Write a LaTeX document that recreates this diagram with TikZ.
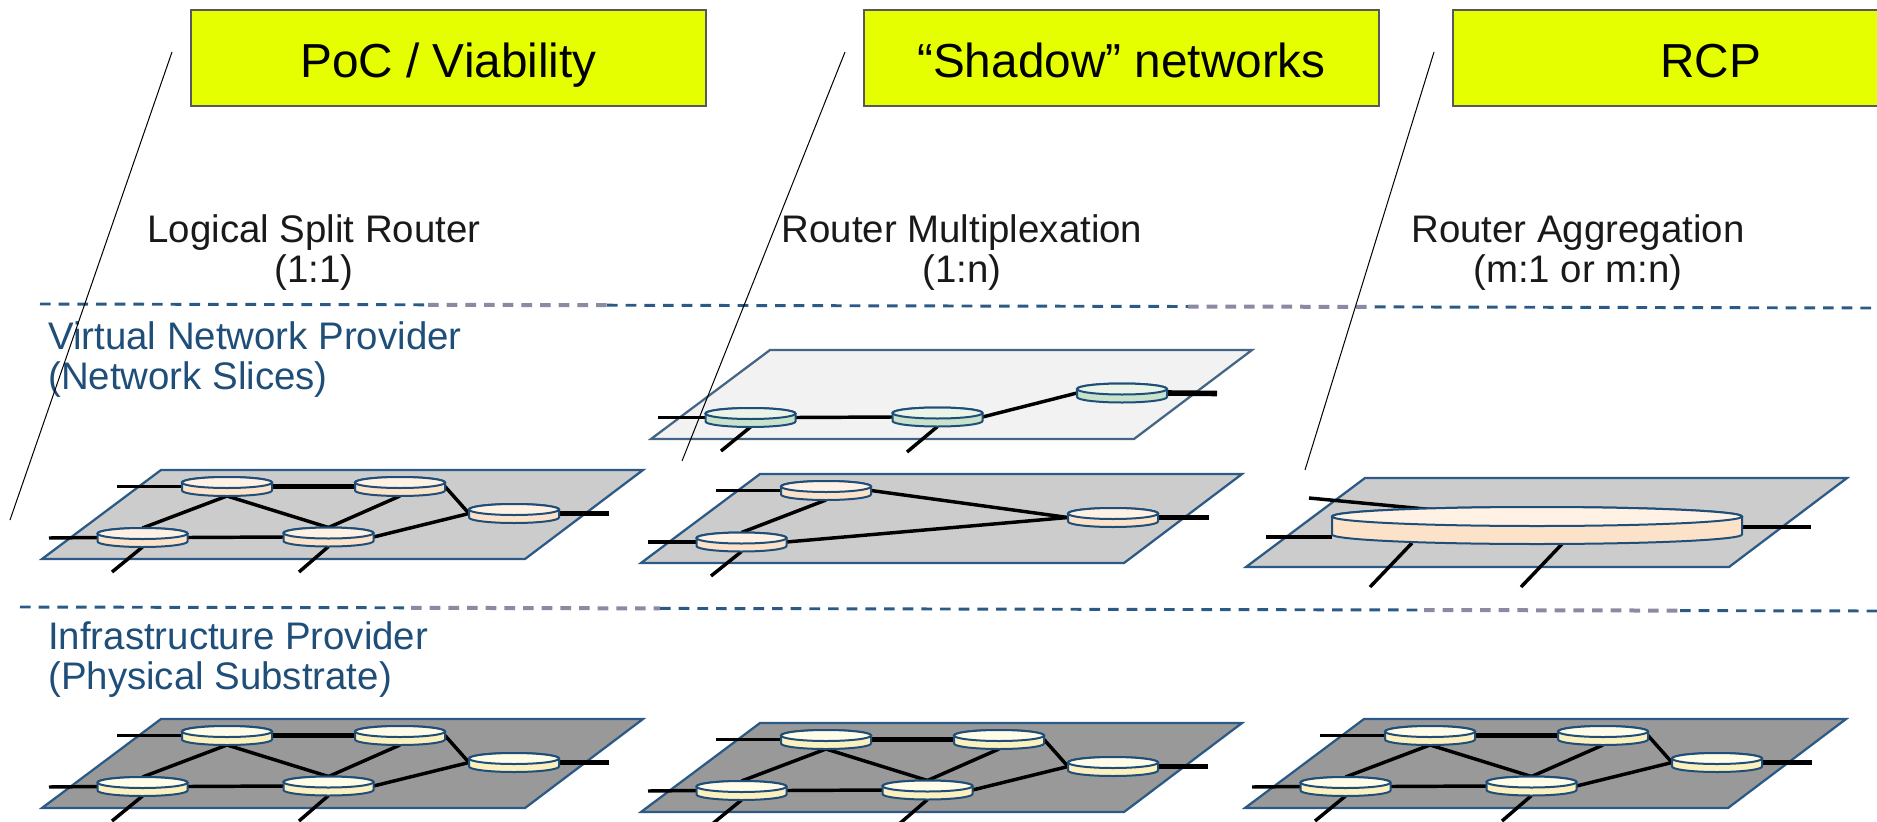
\documentclass[tikz,border=0pt]{standalone}
\usepackage{fontspec}
\setmainfont{Liberation Sans}
\usetikzlibrary{calc}
\pgfdeclarelayer{plates}
\pgfdeclarelayer{links}
\pgfsetlayers{plates,links,main}
\definecolor{edgeblue}{HTML}{2A5A85}
\definecolor{rimblue}{HTML}{1F4E79}
\definecolor{dashgrey}{HTML}{8A8AA2}
\definecolor{labelblue}{HTML}{1F4E79}
\definecolor{lime}{HTML}{E6FF00}
\definecolor{peachtop}{HTML}{FFF2E4}
\definecolor{peachside}{HTML}{FDE2CA}
\definecolor{creamtop}{HTML}{FFFCE8}
\definecolor{creamside}{HTML}{FCF0BE}
\definecolor{greentop}{HTML}{EAF4E8}
\definecolor{greenside}{HTML}{C8E2CC}
\tikzset{
  x=0.75pt, y=-0.75pt,
  banner/.style={draw=black!65, line width=1.1pt, fill=lime, minimum height=72pt, inner sep=0pt,
    text height=35.5pt, text depth=7pt,
    font=\fontsize{35.8}{40}\selectfont, text=black},
  heading/.style={align=center, inner sep=0pt, text=black!90, font=\fontsize{28.8}{30}\selectfont},
  rolelabel/.style={align=left, inner sep=0pt, text=labelblue, anchor=west, font=\fontsize{28.8}{30}\selectfont},
  plate/.style={draw=edgeblue, line width=1.7pt, line join=miter},
  routerbox/.style={rectangle, inner sep=0pt, outer sep=0pt},
  rim/.style={draw=rimblue, line width=1.5pt},
  link/.style={black, line width=2.6pt},
  fatlink/.style={black, line width=4.2pt},
  tilt/.style={black, line width=0.75pt},
  bluedash/.style={draw=edgeblue, line width=2.2pt, dash pattern=on 8pt off 6pt},
  greydash/.style={draw=dashgrey, line width=3pt, dash pattern=on 8pt off 6pt},
}
% name, cx, cy, rx, ry, half side height, colour stem
\newcommand\router[7]{%
  \node[routerbox, minimum width={2*#4*0.75pt}, minimum height={(2*#6+2*#5)*0.75pt}] (#1) at (#2,#3) {};
  \draw[rim, fill=#7side] ({#2-#4},{#3-#6}) -- ({#2-#4},{#3+#6})
     arc[start angle=180, end angle=0, x radius=#4, y radius=#5]
     -- ({#2+#4},{#3-#6})
     arc[start angle=0, end angle=-180, x radius=#4, y radius=#5] -- cycle;
  \draw[rim, fill=#7top] (#2,{#3-#6}) ellipse[x radius=#4, y radius=#5];
}
\newcommand\smallrouter[4]{\router{#1}{#2}{#3}{45}{5.5}{4}{#4}}
% plate whose upper left corner is at (ox,oy)
\newcommand\plateshape[4][edgeblue]{%
  \begin{pgfonlayer}{plates}
    \draw[plate, draw=#1, fill=#4] (#2,#3) -- ({#2+482},#3) -- ({#2+364},{#3+89}) -- ({#2-119},{#3+89}) -- cycle;
  \end{pgfonlayer}%
}
% five router network; prefix, dx, dy, plate fill, router colour
\newcommand\fivenet[5]{%
  \begin{scope}[shift={(#2,#3)}]
    \plateshape{161}{470}{#4}
    \smallrouter{#1a}{227}{486.5}{#5}
    \smallrouter{#1b}{400}{486.5}{#5}
    \smallrouter{#1c}{514}{513.5}{#5}
    \smallrouter{#1d}{142.5}{537.5}{#5}
    \smallrouter{#1e}{328.5}{537}{#5}
    \coordinate (#1sa) at (117,486.5);
    \coordinate (#1sd) at (49,538);
    \coordinate (#1sc) at (609,513.5);
    \coordinate (#1dd) at (112,572);
    \coordinate (#1de) at (299,572);
    \begin{pgfonlayer}{links}
      \draw[link] (#1sa) -- (#1a.west);
      \draw[fatlink] (#1a.east) -- (#1b.west);
      \draw[link] (#1a.south) -- (#1d.north);
      \draw[link] (#1a.south) -- (#1e.north);
      \draw[link] (#1b.south) -- (#1e.north);
      \draw[link] (#1b.east) -- (#1c.west);
      \draw[link] (#1e.east) -- (#1c.west);
      \draw[link] (#1d.east) -- (#1e.west);
      \draw[link] (#1sd) -- (#1d.west);
      \draw[link] (#1d.south) -- (#1dd);
      \draw[link] (#1e.south) -- (#1de);
      \draw[fatlink] (#1c.east) -- (#1sc);
    \end{pgfonlayer}
  \end{scope}%
}
\begin{document}
\begin{tikzpicture}
\useasboundingbox (0,0) rectangle (1877,821);

% dashed separators
\draw[bluedash] (40,304) -- (428,304.8);
\draw[greydash] (428,304.8) -- (607,305.2);
\draw[bluedash] (607,305.2) -- (1188,306.5);
\draw[greydash] (1188,306.5) -- (1375,306.9);
\draw[bluedash] (1375,306.9) -- (1877,308);
\draw[bluedash] (20,607) -- (411,607.8);
\draw[greydash] (411,607.8) -- (660,608.4);
\draw[bluedash] (660,608.4) -- (1424,610);
\draw[greydash] (1424,610) -- (1680,610.6);
\draw[bluedash] (1680,610.6) -- (1877,611);

% banners
\node[banner, minimum width=386.25pt] (b1) at (448.5,58) {PoC / Viability};
\node[banner, minimum width=386.25pt] (b2) at (1121.5,58) {“Shadow” networks};
\node[banner, minimum width=386.25pt] (b3) at (1710.5,58) {RCP};

% headings
\node[heading] (h1) at (314,253) {Logical Split Router\\(1:1)};
\node[heading] (h2) at (962,253) {Router Multiplexation\\(1:n)};
\node[heading] (h3) at (1578,253) {Router Aggregation\\(m:1 or m:n)};

% role labels
\node[rolelabel] (r1) at (48,360) {Virtual Network Provider\\(Network Slices)};
\node[rolelabel] (r2) at (48,660) {Infrastructure Provider\\(Physical Substrate)};

% row: virtual network, first column
\fivenet{p}{0}{0}{black!20}{peach}
% row: physical substrate
\fivenet{q}{0}{249}{black!40}{cream}
\fivenet{s}{599}{253}{black!40}{cream}
\fivenet{t}{1203}{249}{black!40}{cream}

% second column, slice on top
\plateshape[edgeblue!70!gray]{770}{350}{black!5}
\smallrouter{va}{750.5}{417.5}{green}
\smallrouter{vb}{937.5}{417}{green}
\smallrouter{vc}{1122}{393}{green}
\coordinate (vsa) at (658,417.5);
\coordinate (vsc) at (1217,393.5);
\coordinate (vda) at (721,451);
\coordinate (vdb) at (907,452);
\begin{pgfonlayer}{links}
  \draw[link] (vsa) -- (va.west);
  \draw[link] (va.east) -- (vb.west);
  \draw[link] (vb.east) -- (vc.west);
  \draw[fatlink] (vc.east) -- (vsc);
  \draw[link] (va.south) -- (vda);
  \draw[link] (vb.south) -- (vdb);
\end{pgfonlayer}

% second column, lower plate
\plateshape{760}{474}{black!20}
\smallrouter{ma}{826}{490.5}{peach}
\smallrouter{mc}{1113}{517.5}{peach}
\smallrouter{md}{741.5}{542}{peach}
\coordinate (msa) at (716,490.5);
\coordinate (msd) at (648,542);
\coordinate (msc) at (1209,517.5);
\coordinate (mdd) at (711,576);
\begin{pgfonlayer}{links}
  \draw[link] (msa) -- (ma.west);
  \draw[link] (msd) -- (md.west);
  \draw[fatlink] (mc.east) -- (msc);
  \draw[link] (ma.south) -- (md.north);
  \draw[link] (ma.east) -- (mc.west);
  \draw[link] (md.east) -- (mc.west);
  \draw[link] (md.south) -- (mdd);
\end{pgfonlayer}

% third column, aggregated router
\plateshape{1365}{478}{black!20}
\router{big}{1537}{525.5}{205}{9.5}{9}{peach}
\coordinate (bsa) at (1309,498);
\coordinate (bta) at (1436,510);
\coordinate (bsb) at (1266,537);
\coordinate (btb) at (1332,537);
\coordinate (bsc) at (1811,527);
\coordinate (bdl) at (1370,587);
\coordinate (bdr) at (1521,587);
\coordinate (btl) at (1412,543);
\coordinate (btr) at (1562,544);
\begin{pgfonlayer}{links}
  \draw[link] (bsa) -- (bta);
  \draw[link] (bsb) -- (btb);
  \draw[link] (big.east |- bsc) -- (bsc);
  \draw[link] (btl) -- (bdl);
  \draw[link] (btr) -- (bdr);
\end{pgfonlayer}

% slanted thin lines
\coordinate (la) at (172,52); \coordinate (lb) at (10,520);
\coordinate (lc) at (845,52); \coordinate (ld) at (682,461);
\coordinate (le) at (1434,52); \coordinate (lf) at (1305,470);
\draw[tilt] (la) -- (lb);
\draw[tilt] (lc) -- (ld);
\draw[tilt] (le) -- (lf);
\end{tikzpicture}
\end{document}
